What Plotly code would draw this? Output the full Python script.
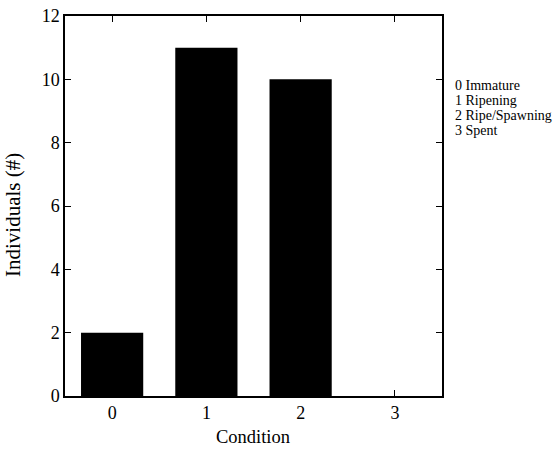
import plotly.graph_objects as go

categories = [0, 1, 2, 3]
counts = [2, 11, 10, 0]
tick_vals = [0, 2, 4, 6, 8, 10, 12]
legend_lines = ["0 Immature", "1 Ripening", "2 Ripe/Spawning", "3 Spent"]

FONT = "Liberation Serif, Times New Roman, serif"

fig = go.Figure()
fig.add_trace(go.Bar(x=categories, y=counts, width=0.66,
                     marker=dict(color="black", line=dict(width=0)),
                     showlegend=False))

fig.update_layout(
    template="none",
    width=557, height=455,
    margin=dict(l=65, r=115, t=16, b=59),
    paper_bgcolor="white", plot_bgcolor="white",
    font=dict(family=FONT, color="black", size=16),
    xaxis=dict(range=[-0.5, 3.5], tickvals=categories, ticktext=[str(c) for c in categories],
               ticks="inside", ticklen=6, tickwidth=1.2, tickcolor="black",
               showline=True, linecolor="black", linewidth=1.5, mirror="ticks",
               showgrid=False, zeroline=False, automargin=False,
               tickfont=dict(size=18)),
    yaxis=dict(range=[0, 12], tickvals=tick_vals,
               ticks="inside", ticklen=6, tickwidth=1.2, tickcolor="black",
               showline=True, linecolor="black", linewidth=1.5, mirror="ticks",
               showgrid=False, zeroline=False, automargin=False,
               tickfont=dict(size=18)),
)

# axis titles placed as text at measured positions
fig.add_annotation(text="Individuals (#)", xref="paper", yref="paper",
                   x=-(65 - 13) / 377, y=1 - (215 - 16) / 380,
                   xanchor="center", yanchor="middle", textangle=-90,
                   showarrow=False, font=dict(size=21, family=FONT))
fig.add_annotation(text="Condition", xref="paper", yref="paper",
                   x=(253 - 65) / 377, y=-(437 - 396) / 380,
                   xanchor="center", yanchor="middle",
                   showarrow=False, font=dict(size=18.5, family=FONT))

for i, t in enumerate(legend_lines):
    fig.add_annotation(text=t, xref="paper", yref="paper",
                       x=1.03, y=1 - (69 + 15 * i) / 380, xanchor="left", yanchor="middle",
                       showarrow=False, font=dict(size=14, family=FONT))

fig.write_html("out.html")
